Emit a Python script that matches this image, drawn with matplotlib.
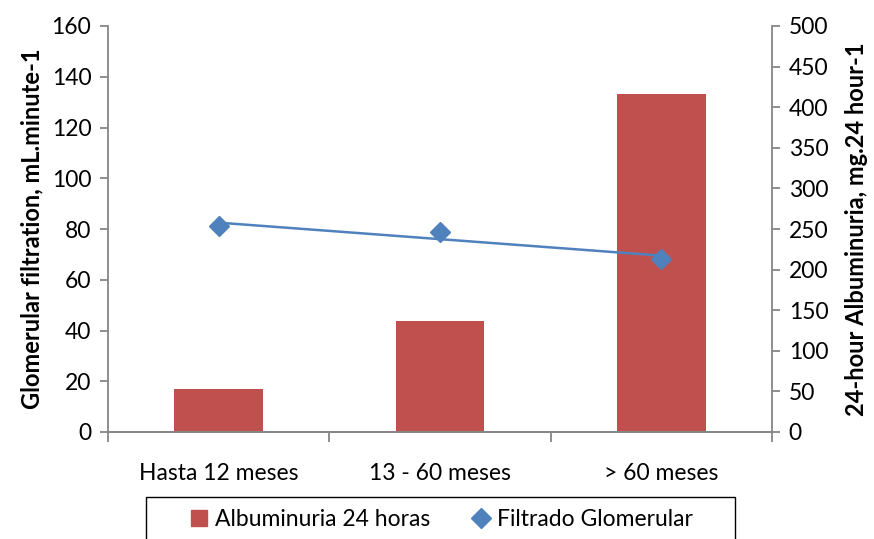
"""
Albuminuria and glomerular filtration by age group.
"""

import matplotlib
matplotlib.use("Agg")
import matplotlib.pyplot as plt
from matplotlib.lines import Line2D
from matplotlib.patches import Rectangle
import numpy as np

categories = ["Hasta 12 meses", "13 - 60 meses", "> 60 meses"]
albuminuria = [53, 137, 416]          # mg/24h, right axis
filtrado = [81, 79, 68]               # mL/min, left axis

plt.rcParams["font.family"] = ["Lato", "DejaVu Sans"]

BAR_COLOR = "#C0504D"
LINE_COLOR = "#4F81BD"
AXIS_COLOR = "#868686"

fig = plt.figure(figsize=(8.74, 5.39), dpi=100)
ax = fig.add_axes([108 / 874, 1 - 432 / 539, 664 / 874, 406 / 539])
ax2 = ax.twinx()

x = np.arange(len(categories))

# bars on the right axis, line on the left axis (kept in front)
ax2.bar(x, albuminuria, width=0.40, color=BAR_COLOR, zorder=2)
ax.set_zorder(ax2.get_zorder() + 1)
ax.patch.set_visible(False)

ax.plot(x, filtrado, linestyle="none", marker="D", markersize=10.5,
        color=LINE_COLOR, zorder=3)
# linear trend line through the filtration values
slope, intercept = np.polyfit(x, filtrado, 1)
xt = np.array([x[0], x[-1]])
ax.plot(xt, slope * xt + intercept, color=LINE_COLOR, linewidth=1.8, zorder=3)

ax.set_xlim(-0.5, len(categories) - 0.5)
ax.set_ylim(0, 160)
ax2.set_ylim(0, 500)
ax.set_yticks(np.arange(0, 161, 20))
ax2.set_yticks(np.arange(0, 501, 50))

ax.set_xticks(x)
ax.set_xticklabels(categories)
ax.set_xticks(np.arange(-0.5, len(categories), 1), minor=True)
ax.tick_params(axis="x", which="major", length=0, pad=22, labelsize=16.5)
ax.tick_params(axis="x", which="minor", length=7, direction="out",
               color=AXIS_COLOR, width=1.3)
ax.tick_params(axis="y", length=6, direction="out", color=AXIS_COLOR,
               width=1.3, labelsize=16.5, pad=6)
ax2.tick_params(axis="y", length=6, direction="out", color=AXIS_COLOR,
                width=1.3, labelsize=16.5, pad=6)

for a in (ax, ax2):
    a.spines["top"].set_visible(False)
    for s in ("left", "right", "bottom"):
        a.spines[s].set_color(AXIS_COLOR)
        a.spines[s].set_linewidth(1.3)
ax.spines["right"].set_visible(False)
ax2.spines["left"].set_visible(False)

ax.set_ylabel("Glomerular filtration, mL.minute-1", fontsize=17,
              fontweight="bold", labelpad=6)
ax2.set_ylabel("24-hour Albuminuria, mg.24 hour-1", fontsize=17,
               fontweight="bold", rotation=90, labelpad=12)

# legend: entries without frame, box drawn separately (runs off the bottom)
handles = [
    Line2D([], [], linestyle="none", marker="s", markersize=11, color=BAR_COLOR),
    Line2D([], [], linestyle="none", marker="D", markersize=10, color=LINE_COLOR),
]
leg = fig.legend(handles, ["Albuminuria 24 horas", "Filtrado Glomerular"],
                 loc="center", bbox_to_anchor=(440.5 / 874, 1 - 520 / 539),
                 ncol=2, fontsize=16.5, frameon=False,
                 handletextpad=0.2, columnspacing=1.72,
                 borderpad=0, borderaxespad=0, handlelength=1.0)
leg.set_in_layout(False)
fig.patches.append(Rectangle((146 / 874, -0.05), 589 / 874, 0.05 + 42 / 539,
                             transform=fig.transFigure, fill=False,
                             edgecolor="black", linewidth=1.0))

fig.savefig("out.png", dpi=100)
